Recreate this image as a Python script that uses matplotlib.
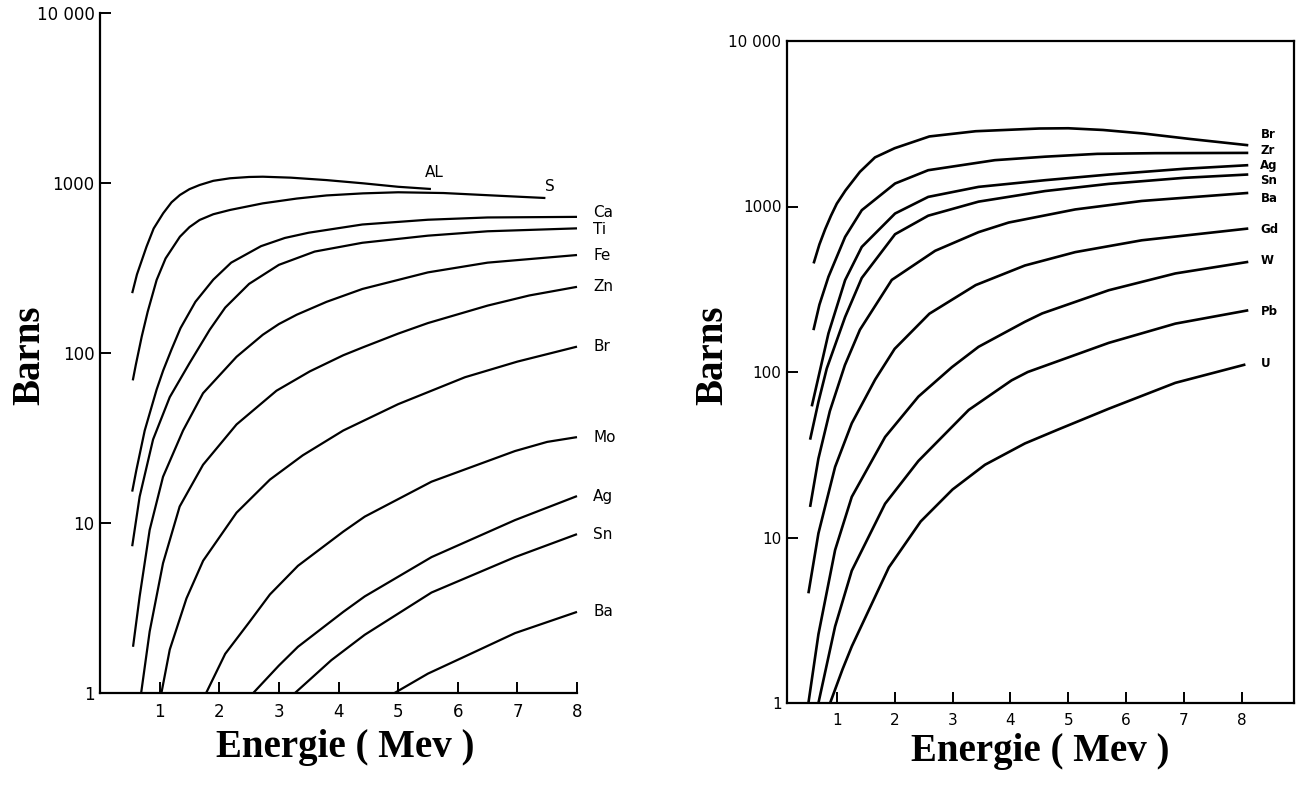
import numpy as np
import matplotlib
matplotlib.use("Agg")
import matplotlib.pyplot as plt
from matplotlib.ticker import FixedLocator, FixedFormatter, NullLocator

# ---- left panel: light elements (energy in MeV, cross section in barns) ----
left_names = ["AL", "S", "Ca", "Ti", "Fe", "Zn", "Br", "Mo", "Ag", "Sn", "Ba"]

al_e = [0.54, 0.62, 0.78, 0.9, 1.06, 1.2, 1.34, 1.5, 1.67, 1.9, 2.18, 2.5, 2.73, 3.2, 3.8, 4.41, 5.0, 5.55]
al_v = [225, 290, 422, 540, 664, 770, 850, 920, 973, 1030, 1066, 1085, 1089, 1075, 1040, 996, 950, 922]
s_e = [0.55, 0.6, 0.7, 0.8, 0.95, 1.1, 1.34, 1.5, 1.67, 1.9, 2.18, 2.73, 3.3, 3.8, 4.41, 5.0, 5.76, 6.76, 7.47]
s_v = [69, 85, 125, 175, 269, 360, 483, 550, 606, 655, 694, 759, 810, 845, 869, 882, 873, 839, 816]
ca_e = [0.54, 0.61, 0.75, 0.95, 1.06, 1.2, 1.35, 1.6, 1.9, 2.2, 2.7, 3.1, 3.5, 4.4, 5.5, 6.5, 8.0]
ca_v = [15.3, 20.5, 35, 61, 79, 105, 140, 200, 270, 340, 425, 475, 510, 570, 608, 627, 632]
ti_e = [0.54, 0.665, 0.89, 1.17, 1.5, 1.84, 2.1, 2.5, 3.0, 3.6, 4.4, 5.5, 6.5, 8.0]
ti_v = [7.3, 14.3, 31, 55, 87, 137, 185, 255, 330, 395, 445, 490, 520, 541]
fe_e = [0.554, 0.665, 0.833, 1.057, 1.393, 1.728, 2.29, 2.73, 3.0, 3.3, 3.8, 4.4, 5.5, 6.5, 8.0]
fe_v = [1.87, 3.7, 9.1, 18.7, 35, 58, 95, 128, 148, 168, 200, 238, 298, 340, 377]
zn_e = [0.69, 0.833, 1.057, 1.336, 1.728, 2.29, 2.96, 3.52, 4.08, 4.41, 5.0, 5.5, 6.5, 7.2, 8.0]
zn_v = [1, 2.3, 5.8, 12.5, 22, 38, 60, 78, 97, 108, 130, 150, 190, 218, 245]
br_e = [1.03, 1.17, 1.45, 1.73, 2.29, 2.85, 3.4, 4.08, 5.0, 6.12, 7.0, 8.0]
br_v = [1, 1.8, 3.6, 6.0, 11.5, 18, 25, 35, 50, 72, 89, 109]
mo_e = [1.78, 2.1, 2.5, 2.85, 3.32, 4.08, 4.44, 5.56, 6.96, 7.5, 8.0]
mo_v = [1, 1.7, 2.6, 3.8, 5.6, 8.9, 10.9, 17.5, 26.5, 30, 32]
ag_e = [2.57, 3.0, 3.32, 4.08, 4.44, 5.56, 6.96, 8.0]
ag_v = [1, 1.45, 1.87, 3.0, 3.7, 6.3, 10.4, 14.4]
sn_e = [3.27, 3.88, 4.44, 5.56, 6.96, 8.0]
sn_v = [1, 1.56, 2.2, 3.9, 6.3, 8.6]
ba_e = [4.94, 5.5, 6.12, 6.96, 8.0]
ba_v = [1, 1.3, 1.64, 2.25, 3.0]

# ---- right panel: heavy elements ----
right_names = ["Br", "Zr", "Ag", "Sn", "Ba", "Gd", "W", "Pb", "U"]

rbr_e = [0.6, 0.7, 0.8, 0.9, 1.0, 1.15, 1.4, 1.66, 2.0, 2.6, 3.4, 4.5, 5.0, 5.6, 6.3, 7.1, 8.11]
rbr_v = [453, 590, 730, 880, 1040, 1250, 1620, 1980, 2250, 2650, 2850, 2960, 2970, 2900, 2760, 2560, 2345]
rzr_e = [0.597, 0.7, 0.856, 1.144, 1.432, 2.007, 2.58, 3.73, 4.6, 5.5, 6.5, 8.11]
rzr_v = [179, 255, 376, 655, 950, 1377, 1657, 1905, 2000, 2080, 2100, 2108]
rag_e = [0.568, 0.683, 0.856, 1.144, 1.432, 2.007, 2.58, 3.45, 4.6, 5.7, 7.0, 8.11]
rag_v = [62, 93, 171, 359, 570, 907, 1143, 1314, 1442, 1560, 1690, 1777]
rsn_e = [0.539, 0.683, 0.827, 1.144, 1.432, 2.007, 2.58, 3.45, 4.6, 5.7, 7.0, 8.11]
rsn_v = [39, 66, 105, 215, 370, 680, 880, 1070, 1240, 1370, 1490, 1561]
rba_e = [0.539, 0.683, 0.88, 1.14, 1.4, 1.95, 2.7, 3.45, 3.97, 5.12, 6.27, 8.11]
rba_v = [15.3, 30, 58, 110, 180, 360, 540, 700, 800, 960, 1080, 1208]
rgd_e = [0.51, 0.683, 0.971, 1.259, 1.663, 2.0, 2.6, 3.4, 4.25, 5.12, 6.27, 8.11]
rgd_v = [4.6, 10.6, 26.7, 49, 90, 138, 225, 335, 440, 530, 625, 736]
rw_e = [0.51, 0.683, 0.971, 1.259, 1.835, 2.41, 2.99, 3.45, 4.25, 4.55, 5.7, 6.85, 8.11]
rw_v = [1, 2.6, 8.4, 17.6, 40.5, 71, 107, 142, 201, 226, 312, 394, 463]
rpb_e = [0.683, 0.971, 1.259, 1.835, 2.41, 3.28, 4.02, 4.3, 5.7, 6.85, 8.11]
rpb_v = [1, 2.9, 6.3, 16, 29, 59, 89, 100, 150, 196, 236]
ru_e = [0.885, 1.1, 1.26, 1.9, 2.45, 3.0, 3.56, 4.25, 4.83, 5.7, 6.85, 8.06]
ru_v = [1, 1.6, 2.2, 6.6, 12.5, 19.5, 27.5, 37, 45, 60, 86, 111]

ytick_vals = [1, 10, 100, 1000, 10000]
ytick_text = ["1", "10", "100", "1000", "10 000"]
xtick_vals = [1, 2, 3, 4, 5, 6, 7, 8]

left_series = [(al_e, al_v), (s_e, s_v), (ca_e, ca_v), (ti_e, ti_v), (fe_e, fe_v),
               (zn_e, zn_v), (br_e, br_v), (mo_e, mo_v), (ag_e, ag_v), (sn_e, sn_v), (ba_e, ba_v)]
right_series = [(rbr_e, rbr_v), (rzr_e, rzr_v), (rag_e, rag_v), (rsn_e, rsn_v), (rba_e, rba_v),
                (rgd_e, rgd_v), (rw_e, rw_v), (rpb_e, rpb_v), (ru_e, ru_v)]

# label heights (barns) where the tags stand next to the line ends
left_label_y = [670, 530, 377, 245, 109, 32, 14.4, 8.6, 3.0]
right_label_y = [2735, 2188, 1778, 1433, 1119, 728, 470, 231, 112]

fig = plt.figure(figsize=(13.12, 7.89), dpi=100)
serif = ["Liberation Serif", "DejaVu Serif"]


def style_axis(ax, labelsize):
    ax.set_yscale("log")
    ax.set_ylim(1, 10000)
    ax.yaxis.set_major_locator(FixedLocator(ytick_vals))
    ax.yaxis.set_major_formatter(FixedFormatter(ytick_text))
    ax.yaxis.set_minor_locator(NullLocator())
    ax.set_xticks(xtick_vals)
    ax.set_xticklabels([str(v) for v in xtick_vals])
    ax.tick_params(direction="in", length=8, width=1.4, labelsize=labelsize, colors="black")
    ax.tick_params(axis="x", pad=7)
    ax.tick_params(axis="y", pad=4)
    for sp in ax.spines.values():
        sp.set_linewidth(1.6)


# left panel
ax1 = fig.add_axes([100 / 1312, 1 - 693 / 789, 477 / 1312, 680 / 789])
style_axis(ax1, 12)
ax1.set_xlim(0, 8)
ax1.spines["top"].set_visible(False)
ax1.spines["right"].set_visible(False)
for (e, v) in left_series:
    ax1.plot(e, v, color="black", lw=1.6, clip_on=False, solid_capstyle="butt")
for name, ly in zip(left_names[2:], left_label_y):
    ax1.text(8.27, ly, name, fontsize=11, ha="left", va="center", clip_on=False)
ax1.text(5.6, 1160, "AL", fontsize=11, ha="center", va="center")
ax1.text(7.55, 950, "S", fontsize=11, ha="center", va="center")

# right panel
ax2 = fig.add_axes([787 / 1312, 1 - 703 / 789, 507 / 1312, 662 / 789])
style_axis(ax2, 11)
ax2.set_xlim(0.14, 8.9)
for (e, v) in right_series:
    ax2.plot(e, v, color="black", lw=1.9, solid_capstyle="butt")
for name, ly in zip(right_names, right_label_y):
    ax2.text(8.32, ly, name, fontsize=8.5, fontweight="bold", ha="left", va="center")

# axis titles
fig.text(345 / 1312, 1 - 748 / 789, "Energie ( Mev )", fontsize=28, fontweight="bold",
         family=serif, ha="center", va="center")
fig.text(1040 / 1312, 1 - 752 / 789, "Energie ( Mev )", fontsize=28, fontweight="bold",
         family=serif, ha="center", va="center")
fig.text(30 / 1312, 1 - 355 / 789, "Barns", fontsize=28, fontweight="bold",
         family=serif, rotation=90, ha="center", va="center")
fig.text(713 / 1312, 1 - 355 / 789, "Barns", fontsize=28, fontweight="bold",
         family=serif, rotation=90, ha="center", va="center")

fig.savefig("out.png", dpi=100, facecolor="white")
